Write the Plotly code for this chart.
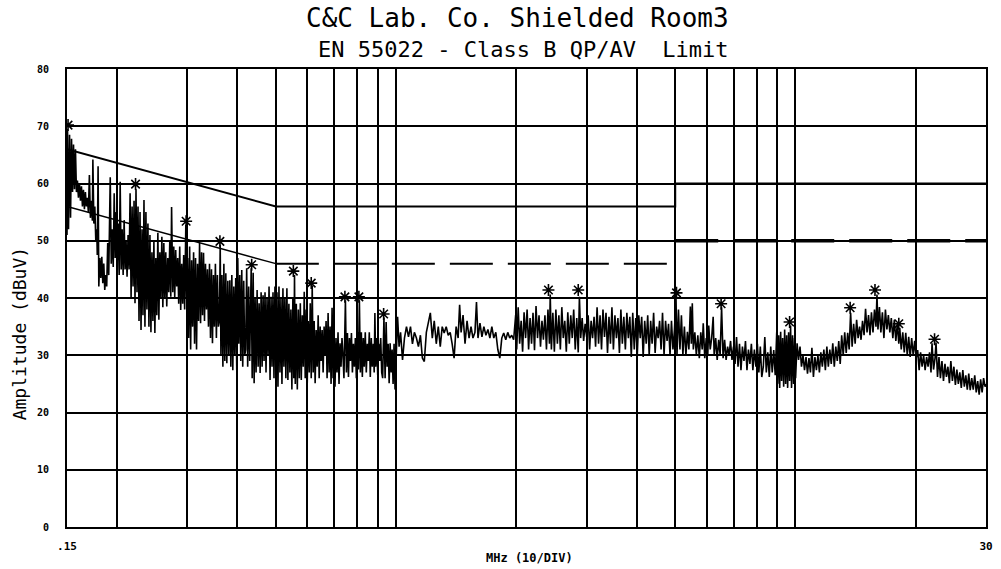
import math
import plotly.graph_objects as go

# ---------------- text ----------------
title_text = "C&C Lab. Co. Shielded Room3"
subtitle_text = "EN 55022 - Class B QP/AV\u00a0 Limit"
x_title_text = "MHz (10/DIV)"
y_title_text = "Amplitude (dBuV)"

# ---------------- axes ----------------
x_grid_mhz = [0.15, 0.2, 0.3, 0.4, 0.5, 0.6, 0.7, 0.8, 0.9, 1, 2, 3, 4, 5, 6, 7, 8, 9, 10, 20, 30]
x_tick_text = [".15", "", "", "", "", "", "", "", "", "", "", "", "", "", "", "", "", "", "", "", "30"]
y_ticks = [0, 10, 20, 30, 40, 50, 60, 70, 80]
y_tick_text = ["0", "10", "20", "30", "40", "50", "60", "70", "80"]

# ---------------- limit lines (EN 55022 class B) ----------------
qp_limit_freq = [0.15, 0.5, 5, 5, 30]
qp_limit_level = [66, 56, 56, 60, 60]
av_slope_freq = [0.15, 0.5]
av_slope_level = [56, 46]
av_mid_freq = [0.5, 5]
av_mid_level = [46, 46]
av_high_freq = [5, 30]
av_high_level = [50, 50]

# ---------------- measured scan (peak / valley sequence) ----------------
band_a_freq = [
    0.15000, 0.15044, 0.15132, 0.15221, 0.15309, 0.15397, 0.15486, 0.15574, 0.15662, 0.15751, 0.15839,
    0.15930, 0.16023, 0.16117, 0.16210, 0.16304, 0.16397, 0.16491, 0.16584, 0.16678, 0.16771,
    0.16869, 0.16968, 0.17067, 0.17166, 0.17265, 0.17364, 0.17413, 0.17512, 0.17611, 0.17710,
    0.17809, 0.17861, 0.17945, 0.18019, 0.18123, 0.18228, 0.18333, 0.18438, 0.18543, 0.18648, 0.18753,
    0.18858, 0.18969, 0.19080, 0.19247, 0.19358, 0.19469, 0.19580, 0.19691, 0.19802, 0.19913,
    0.20028, 0.20146, 0.20263, 0.20381, 0.20498, 0.20616, 0.20733, 0.20851, 0.20969, 0.21086,
    0.21207, 0.21332, 0.21456, 0.21581, 0.21705, 0.21830, 0.21954, 0.22079, 0.22203, 0.22328,
    0.22456, 0.22588, 0.22720, 0.22852, 0.22984, 0.23115, 0.23247, 0.23379, 0.23511, 0.23643,
    0.23778, 0.23917, 0.24057, 0.24197, 0.24336, 0.24476, 0.24615, 0.24755, 0.24895, 0.25035,
    0.25179, 0.25327, 0.25475, 0.25622, 0.25770, 0.25918, 0.26066, 0.26214, 0.26361, 0.26509,
    0.26661, 0.26818, 0.26975, 0.27131, 0.27288, 0.27413, 0.27601, 0.27758, 0.27914, 0.28071,
    0.28232, 0.28398, 0.28564, 0.28729, 0.28895, 0.29061, 0.29227, 0.29394, 0.29558, 0.29757,
]
band_a_level = [
    51, 69.5, 52, 68.5, 54, 67.8, 58.5, 66.8, 59, 66, 58.5,
    60.5, 57.5, 60, 57, 59.5, 56, 58.9, 55.5, 58.5, 56,
    57.5, 55, 61.5, 54, 57, 53.5, 64.2, 53, 56, 50,
    52, 47.5, 63, 42, 47, 43.5, 47.2, 42.6, 46, 41.4, 44,
    42, 49.6, 44, 61.1, 46, 52, 45.4, 58.3, 47, 55,
    46, 53, 44, 60.3, 45, 52, 44, 53.6, 45, 50,
    43.7, 51, 45, 58.3, 40, 56, 42, 57, 39.1, 59,
    41, 56, 36, 55, 34.4, 52, 37, 57.1, 35, 55,
    38, 53, 35, 51, 34, 48, 36, 50, 33.9, 47,
    37, 51.4, 36.2, 48, 40, 50.7, 38.4, 49.6, 40, 48,
    38.5, 47, 41, 50, 40.2, 55.9, 41, 49, 40.2, 48.4,
    42, 47, 39, 49, 37.9, 46, 39, 47.5, 38, 52.8,
]

band_b_freq = [
    0.29894, 0.30069, 0.30245, 0.30420, 0.30596, 0.30771, 0.30947, 0.31122, 0.31298, 0.31474,
    0.31655, 0.31841, 0.32027, 0.32213, 0.32399, 0.32584, 0.32770, 0.32956, 0.33142, 0.33328,
    0.33519, 0.33716, 0.33913, 0.34110, 0.34307, 0.34503, 0.34700, 0.34897, 0.35094, 0.35291,
    0.35493, 0.35702, 0.35910, 0.36118, 0.36285, 0.36431, 0.36639, 0.36848, 0.37056, 0.37265,
    0.37473, 0.37694, 0.37914, 0.38135, 0.38356, 0.38577, 0.38797, 0.39018, 0.39239, 0.39459,
    0.39680, 0.39914, 0.40148, 0.40381, 0.40615, 0.40849, 0.41082, 0.41316, 0.41550, 0.41783,
    0.42017, 0.42265, 0.42512, 0.42760, 0.43007, 0.43378, 0.43626, 0.43873, 0.44121, 0.44368,
    0.44622, 0.44884, 0.45146, 0.45408, 0.45670, 0.45932, 0.46194, 0.46456, 0.46718, 0.46980,
    0.47250, 0.47527, 0.47805, 0.48082, 0.48360, 0.48637, 0.48915, 0.49192, 0.49470, 0.49747,
]
band_b_level = [
    40, 47, 33, 49, 31, 46.6, 35, 48, 32, 47,
    31, 46, 36, 49.6, 35.6, 48, 37, 47.9, 36, 46,
    38, 45, 35, 46, 33, 45, 32.1, 44, 35, 46,
    33, 44, 35, 36, 49.3, 30, 44, 28, 46, 29,
    44.3, 28.6, 43, 30, 43.1, 28, 44, 27.4, 42, 30,
    43.5, 27.4, 47, 32, 44, 29, 44.9, 28, 43, 30,
    31, 45.2, 28, 42, 29, 45.2, 26, 44.4, 25.1, 40,
    27, 41.4, 28, 39.1, 26.9, 41, 28, 40.5, 29, 41,
    27, 40, 30, 42, 25.7, 40.2, 28, 41, 26, 42,
]

band_c_freq = [
    0.50033, 0.50327, 0.50621, 0.50914, 0.51208, 0.51502, 0.51796, 0.52090, 0.52383, 0.52677,
    0.52980, 0.53291, 0.53602, 0.53913, 0.54224, 0.54535, 0.54846, 0.55157, 0.55468, 0.55686,
    0.55934, 0.56263, 0.56593, 0.56922, 0.57252, 0.57581, 0.57910, 0.58240, 0.58569, 0.58899,
    0.59229, 0.59578, 0.59927, 0.60275, 0.60624, 0.60973, 0.61322, 0.61671, 0.62019, 0.62368,
    0.62717, 0.63086, 0.63456, 0.63825, 0.64195, 0.64564, 0.64934, 0.65303, 0.65672, 0.66042,
    0.66410, 0.66801, 0.67192, 0.67583, 0.67974, 0.68366, 0.68757, 0.69148, 0.69539, 0.69930,
    0.70321, 0.70735, 0.71149, 0.71563, 0.71977, 0.72391, 0.72805, 0.73219, 0.73633, 0.74047,
    0.74681, 0.75120, 0.75558, 0.75997, 0.76435, 0.76874, 0.77312, 0.77751, 0.78189, 0.78628,
    0.79080, 0.79544, 0.80009, 0.80473, 0.80938, 0.81402, 0.81867, 0.82331, 0.82795, 0.83260,
    0.83737, 0.84229, 0.84720, 0.85212, 0.85704, 0.86195, 0.86687, 0.87179, 0.87671, 0.88162,
    0.88512, 0.88929, 0.89449, 0.89970, 0.90491, 0.91012, 0.91532, 0.92053, 0.92574, 0.93251,
    0.93891, 0.94442, 0.94993, 0.95544, 0.96096, 0.96647, 0.97198, 0.97749, 0.98300, 0.98852,
]
band_c_level = [
    27, 41, 24.5, 42, 27, 40, 25, 41.7, 28, 40,
    26, 41.7, 25.7, 39, 27, 38, 24, 40, 26, 44,
    25, 39, 24, 38, 26, 39.1, 25.7, 37, 28, 41.1,
    26, 38, 25.1, 36, 27, 39.1, 26, 42.2, 27, 36,
    25.1, 34.4, 28, 37, 26, 35, 29, 34.4, 27, 35,
    30, 36, 26, 37.4, 27, 35, 25, 38.3, 26, 34.4,
    24.5, 33, 27, 34, 25, 32.1, 28, 33, 30, 26,
    39.6, 27, 33.9, 26.2, 33, 29, 33.9, 27, 32, 28,
    33, 26, 34, 27.5, 39.6, 27, 34, 26.2, 33, 28,
    34, 27, 32, 29, 34, 26.2, 33, 28, 32, 27,
    37.4, 28, 33, 26.5, 32, 29, 33, 27, 26, 36.6,
    26, 35.8, 28, 32, 25.1, 32.1, 27, 31, 25, 32,
]

band_d_freq = [
    0.99420, 1.00004, 1.00879, 1.01755, 1.02631, 1.03798,
    1.04966, 1.06202, 1.07438, 1.08675, 1.09911,
    1.11147, 1.12456, 1.13765, 1.15075, 1.16384,
    1.17693, 1.19079, 1.20465, 1.21852, 1.23238,
    1.24624, 1.26092, 1.27559, 1.29027, 1.30495,
    1.31963, 1.33517, 1.35072, 1.36626, 1.38181,
    1.39735, 1.41381, 1.43027, 1.44261, 1.45495, 1.47141,
    1.48835, 1.50578, 1.52321, 1.54064, 1.55807,
    1.57601, 1.58985, 1.60369, 1.62214, 1.64059,
    1.65905, 1.67859, 1.69813, 1.71767, 1.73721,
    1.75675, 1.77744, 1.79813, 1.81882, 1.83952,
    1.86021, 1.88212, 1.90403, 1.92594, 1.94785,
    1.96976, 1.99296, 2.00456, 2.02196, 2.03936, 2.05676, 2.07416,
    2.09190, 2.11033, 2.12875, 2.14718, 2.16560, 2.18403, 2.20246,
    2.22161, 2.24112, 2.26062, 2.28013, 2.29964, 2.31915,
    2.33866, 2.35932, 2.37998, 2.40064, 2.42130, 2.43232, 2.44884, 2.46950,
    2.49097, 2.51285, 2.53473, 2.55660, 2.57848, 2.60035,
    2.62223, 2.64539, 2.66856, 2.69172, 2.71488, 2.73804, 2.76121,
    2.78483, 2.80936, 2.83389, 2.85842, 2.87804, 2.89930, 2.92383,
    2.94884, 2.97481, 3.00078, 3.02676, 3.05273, 3.07870, 3.10468,
    3.13166, 3.15917, 3.18667, 3.21417, 3.24167, 3.26917,
    3.29667, 3.32579, 3.35492, 3.38404, 3.41316, 3.44229, 3.47141,
    3.50110, 3.53194, 3.56277, 3.59361, 3.62445, 3.65529, 3.68612,
    3.71817, 3.75082, 3.78347, 3.81612, 3.84878, 3.88143,
    3.91408, 3.94866, 3.98323, 4.01781, 4.05239, 4.08696, 4.12154,
    4.15679, 4.19340, 4.23001, 4.26663, 4.30324, 4.33985, 4.37646,
    4.41451, 4.45328, 4.49204, 4.53081, 4.56958, 4.60835,
    4.64712, 4.68817, 4.72922, 4.77027, 4.81132, 4.85237, 4.89342,
]
band_d_level = [
    24, 31, 36.7, 31.5, 34, 29.2,
    33, 35, 33.2, 35, 32,
    34, 33, 31.5, 33.5, 29.5,
    28.9, 34, 36, 37.4, 33,
    36, 32, 35, 31.5, 35,
    33.9, 35, 33.5, 34, 32,
    29.5, 35, 33, 38.8, 34, 37,
    32, 36, 33, 35, 33,
    34, 39.3, 33, 35.6, 33.2,
    35, 33.5, 34.5, 33, 35,
    33, 34, 31, 29.5, 33,
    33.9, 32.7, 34, 33, 33.5,
    32.7, 37, 31, 38.4, 32, 36, 30.6,
    37.5, 33, 38, 31, 36.5, 32, 37.4,
    30.9, 38.6, 33, 37, 31.5, 36,
    32.7, 37, 31, 38, 32, 40.6, 31, 37.4,
    30.6, 38, 32, 37, 31, 38.4,
    33, 36, 30.6, 37.5, 32, 37, 33,
    38, 31, 36.5, 30.5, 40.2, 33, 36.5,
    32.5, 35.5, 33.2, 37, 31, 36, 33,
    36.7, 31.5, 38.4, 32, 37, 31,
    38, 33.2, 37.4, 30.4, 36.7, 32, 38.4,
    31, 37, 33, 36.5, 30.4, 38, 32,
    36.7, 31, 37.4, 33, 36.7, 29.7,
    37.4, 31, 36.5, 30, 37, 33, 36.7,
    29.7, 36, 32, 37, 30, 36, 32,
    37.4, 30.4, 35, 33, 36, 31,
    37.4, 30, 36, 32.5, 35.5, 30, 36,
]

band_e_freq = [
    4.93528, 4.97875, 5.02221, 5.05119, 5.09466, 5.13813, 5.18160,
    5.22592, 5.27195, 5.31798, 5.36401, 5.41004, 5.45607, 5.48675,
    5.51744, 5.54993, 5.59867, 5.64741, 5.69615, 5.74489, 5.79363,
    5.84237, 5.87678, 5.92839, 5.98000, 6.03160, 6.06601, 6.11762, 6.16923,
    6.22286, 6.25929, 6.31394, 6.36859, 6.42324, 6.47789, 6.53254,
    6.58933, 6.64720, 6.70507, 6.76294, 6.82081, 6.87868,
    6.93654, 6.99782, 7.05909, 7.12037, 7.18164, 7.24292, 7.30419,
    7.36667, 7.43155, 7.49644, 7.56132, 7.62620, 7.69109, 7.75597,
    7.82340, 7.89211, 7.96081, 8.02952, 8.09822, 8.16693,
    8.23563, 8.30838, 8.38113, 8.45388, 8.52664, 8.59939, 8.67214,
    8.74632, 8.82335, 8.90039, 8.97742, 9.02878, 9.08014, 9.13150, 9.18285,
    9.23421, 9.28859, 9.34297, 9.39735, 9.45173, 9.50612, 9.56050, 9.61488, 9.66926, 9.72364,
    9.77802, 9.83561, 9.89319, 9.95078, 10.0084, 10.0947, 10.1811, 10.2675,
    10.3539, 10.4454, 10.5368, 10.6283, 10.7197, 10.8112, 10.9026,
    10.9959, 11.0927, 11.1896, 11.2864, 11.3833, 11.4802, 11.5770,
    11.6777, 11.7802, 11.8828, 11.9853, 12.0879, 12.1904,
    12.2930, 12.4016, 12.5102, 12.6187, 12.7273, 12.8359, 12.9445,
    13.0552, 13.1702, 13.2852, 13.4002, 13.5152, 13.6302, 13.7452,
    13.8647, 13.9864, 14.1082, 14.2299, 14.3517, 14.4735,
    14.5952, 14.7241, 14.8531, 14.9820, 15.1109, 15.2398, 15.3688,
    15.5002, 15.6368, 15.7733, 15.9098, 16.0008, 16.0918, 16.2284,
    16.3649, 16.5095, 16.6540, 16.7986, 16.9431, 17.0877, 17.2323,
    17.3796, 17.5327, 17.6858, 17.8389, 17.9919, 18.1450, 18.2471,
    18.4031, 18.5653, 18.7274, 18.8894, 19.0515, 19.2136, 19.3757,
    19.5441, 19.7158, 19.8874, 20.0590, 20.2307, 20.4023,
    20.5739, 20.7557, 20.9374, 21.1192, 21.3009, 21.4827, 21.6644,
    21.8497, 21.9780, 22.1705, 22.3629, 22.4912, 22.6836, 22.8761,
    23.0685, 23.2723, 23.4761, 23.6799, 23.8837, 24.0874, 24.2912,
    24.4990, 24.7148, 24.9306, 25.1464, 25.3621, 25.5779, 25.7937,
    26.0179, 26.2464, 26.4749, 26.7034, 26.9318, 27.1603,
    27.3888, 27.6308, 27.8727, 28.1147, 28.3566, 28.5986, 28.8405,
    29.0852, 29.3352, 29.5853, 29.8353, 30.0,
]
band_e_level = [
    31, 34.5, 40.2, 30, 38, 31, 37,
    30, 35, 30, 34.1, 31, 38.5, 32,
    39.1, 31, 34, 30, 33.5, 29.5, 34,
    31, 35.6, 29.5, 33, 30, 35.2, 31, 33,
    36.7, 30, 33, 29.2, 32.7, 30, 38.4,
    29.5, 32.7, 29.2, 31.5, 30, 32.5,
    29.2, 31.5, 28.5, 33.2, 28, 32, 27.4,
    31.5, 29, 32.5, 27.4, 31, 28.5, 32,
    27.4, 31, 28, 32, 27, 31.5,
    26.2, 28, 33.2, 27, 30.5, 26.2, 31.5,
    27, 30.9, 26.5, 34, 25, 33.5, 24.3, 34.1,
    25.5, 33, 24.5, 34.5, 25, 33.5, 24.3, 34, 25.5, 35.2,
    24.3, 33.5, 25, 33, 26, 32.1, 29.2, 31.5,
    28, 30, 27.4, 29.7, 26.8, 29.5, 27,
    31.3, 26.2, 29.7, 27.4, 30, 27, 30.5,
    28, 31, 27.4, 31.5, 28, 31,
    28.5, 32.1, 28, 31.5, 29, 32.5, 28.5,
    33.5, 30, 34, 30.4, 33.9, 31, 37.4,
    31.5, 35.5, 32, 36.2, 33, 35,
    32.7, 36, 33.5, 38.1, 34, 37, 33.5,
    37.5, 34, 38, 35, 40.6, 34.5, 38.4,
    34, 37.5, 33, 38, 34.5, 37, 34,
    36.5, 33, 36.2, 32.5, 35.5, 32, 34.8,
    31, 34, 30.5, 33.9, 30, 33.2, 29.7,
    33, 30, 32.5, 29.5, 30.9, 27.4,
    30.5, 28, 30, 27.4, 29.7, 28, 30.5,
    27, 32.1, 27.5, 29.5, 32.2, 26.2, 29.7,
    26, 29, 25.5, 28.5, 26.2, 28, 25.1,
    29, 25.5, 28, 24.8, 27.5, 25, 27,
    24.3, 27.4, 24.5, 26.5, 24, 26.8,
    23.9, 26, 24, 26.5, 23.5, 25.5, 23.1,
    25.8, 23.5, 26, 24.5, 25,
]

# ---------------- peak markers (asterisks) ----------------
peak_freq_mhz = [0.1509, 0.2227, 0.2981, 0.3622, 0.4350, 0.5531, 0.6132, 0.7446, 0.8071, 0.9309,
                 2.4075, 2.8584, 5.0367, 6.5143, 9.6693, 13.707, 15.819, 18.145, 22.299]
peak_level_dbuv = [70.2, 59.9, 53.4, 49.9, 45.8, 44.7, 42.6, 40.2, 40.2, 37.2,
                   41.4, 41.4, 40.9, 39.0, 35.8, 38.3, 41.4, 35.5, 32.8]

scan_freq = band_a_freq + band_b_freq + band_c_freq + band_d_freq + band_e_freq
scan_level = band_a_level + band_b_level + band_c_level + band_d_level + band_e_level

INK = "black"
MONO = "DejaVu Sans Mono"

fig = go.Figure()
fig.add_trace(go.Scatter(x=qp_limit_freq, y=qp_limit_level, mode="lines",
                         line=dict(color=INK, width=2), hoverinfo="skip"))
fig.add_trace(go.Scatter(x=av_slope_freq, y=av_slope_level, mode="lines",
                         line=dict(color=INK, width=1.5), hoverinfo="skip"))
fig.add_trace(go.Scatter(x=av_mid_freq, y=av_mid_level, mode="lines",
                         line=dict(color=INK, width=2, dash="43px,15px"), hoverinfo="skip"))
fig.add_trace(go.Scatter(x=av_high_freq, y=av_high_level, mode="lines",
                         line=dict(color=INK, width=3.5, dash="43px,15px"), hoverinfo="skip"))
fig.add_trace(go.Scatter(x=scan_freq, y=scan_level, mode="lines",
                         line=dict(color=INK, width=1.6)))
fig.add_trace(go.Scatter(x=peak_freq_mhz, y=peak_level_dbuv, mode="markers",
                         marker=dict(symbol="asterisk-open", size=10, color=INK,
                                     line=dict(color=INK, width=1.6))))

fig.update_layout(
    width=1001, height=569,
    margin=dict(l=67, r=8, t=69, b=42),
    paper_bgcolor="white", plot_bgcolor="white",
    showlegend=False,
    font=dict(family=MONO, color=INK),
)
fig.update_xaxes(
    type="log", range=[math.log10(0.15), math.log10(30)],
    tickmode="array", tickvals=x_grid_mhz, ticktext=x_tick_text,
    showgrid=True, gridcolor=INK, gridwidth=2,
    showline=True, linecolor=INK, linewidth=2, mirror=True,
    ticks="", zeroline=False, ticklabelstandoff=8,
    tickfont=dict(family=MONO, size=11, color=INK, weight="bold"),
)
fig.update_yaxes(
    range=[0, 80], tickmode="array", tickvals=y_ticks, ticktext=y_tick_text,
    showgrid=True, gridcolor=INK, gridwidth=2,
    showline=True, linecolor=INK, linewidth=2, mirror=True,
    ticks="", zeroline=False, ticklabelstandoff=14,
    tickfont=dict(family=MONO, size=10, color=INK, weight="bold"),
)

fig.add_annotation(text=title_text, xref="paper", yref="paper", x=0.4903, y=1.1114,
                   showarrow=False, xanchor="center", yanchor="middle",
                   font=dict(family=MONO, size=26, color=INK))
fig.add_annotation(text=subtitle_text, xref="paper", yref="paper", x=0.4968, y=1.0415,
                   showarrow=False, xanchor="center", yanchor="middle",
                   font=dict(family=MONO, size=22, color=INK))
fig.add_annotation(text=y_title_text, xref="paper", yref="paper", x=-0.0508, y=0.4214,
                   showarrow=False, xanchor="center", yanchor="middle", textangle=-90,
                   font=dict(family=MONO, size=18, color=INK))
fig.add_annotation(text=x_title_text, xref="paper", yref="paper", x=0.503, y=-0.0677,
                   showarrow=False, xanchor="center", yanchor="middle",
                   font=dict(family=MONO, size=12, color=INK, weight="bold"))

fig.write_html("out.html", config={"displayModeBar": False},
               post_script="document.body.style.margin='0px';document.body.style.overflow='hidden';")
